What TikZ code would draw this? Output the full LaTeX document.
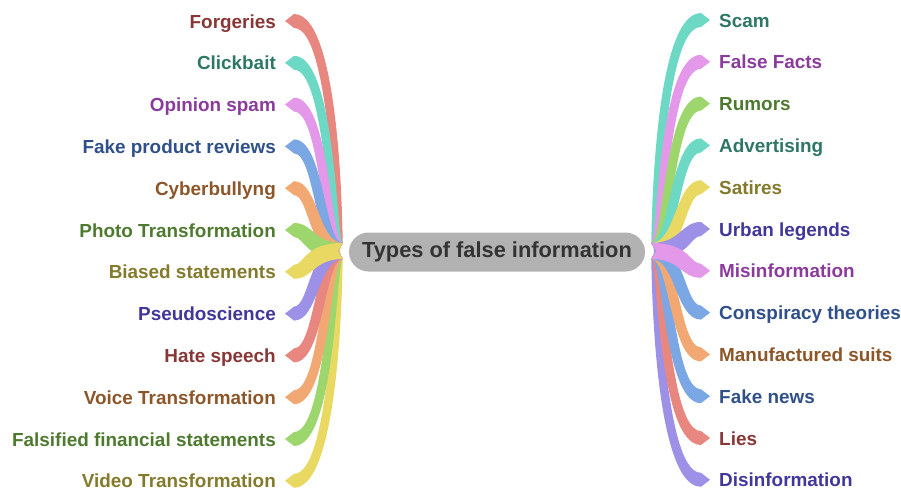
\documentclass[tikz,border=0pt]{standalone}
\usepackage{fontspec}
\setmainfont{Liberation Sans}
\usepackage{tikz}
\usetikzlibrary{calc}

\definecolor{redband}{HTML}{E8877F}
\definecolor{redtext}{HTML}{883636}
\definecolor{tealband}{HTML}{6DD8C4}
\definecolor{tealtext}{HTML}{2E7766}
\definecolor{pinkband}{HTML}{E398E9}
\definecolor{pinktext}{HTML}{8A3B9B}
\definecolor{blueband}{HTML}{7BA7E4}
\definecolor{bluetext}{HTML}{2F5089}
\definecolor{orangeband}{HTML}{F1A873}
\definecolor{orangetext}{HTML}{8C5629}
\definecolor{greenband}{HTML}{9DD66D}
\definecolor{greentext}{HTML}{4E7A30}
\definecolor{yellowband}{HTML}{E9D963}
\definecolor{yellowtext}{HTML}{837A2C}
\definecolor{purpleband}{HTML}{9C91E6}
\definecolor{purpletext}{HTML}{41379A}
\definecolor{rootgray}{HTML}{B2B2B2}
\definecolor{roottext}{HTML}{333333}

% ribbon: leaf, anchor side, root point, direction, trunk offset, colour
\newcommand{\ribbon}[6]{%
  \fill[#6] let \p1=($(#1.base #2)+({-(#4)*9},-7)$), \p2=(#3),
    \n1={sign(\y1-(\y2))}, \n2={\x2+(#4)*(#5)} in
    (\x2,\y2+8pt)
    .. controls ({\n2-(#4)*(\n1)*4.5pt},\y2+8pt) and ({\n2-(#4)*(\n1)*4.5pt},\y1+7pt) ..
    ({\x1-(#4)*9pt},\y1+7pt) -- (\x1,\y1) -- ({\x1-(#4)*9pt},\y1-7pt)
    .. controls ({\n2+(#4)*(\n1)*4.5pt},\y1-7pt) and ({\n2+(#4)*(\n1)*4.5pt},\y2-8pt) ..
    (\x2,\y2-8pt) -- ({\x2+(#4)*5pt},\y2) -- cycle;}

\begin{document}
\begin{tikzpicture}[
    x=1pt, y=-1pt,
    leafL/.style={anchor=base east, inner sep=0pt, font=\bfseries\fontsize{18.9}{20}\selectfont},
    leafR/.style={anchor=base west, inner sep=0pt, font=\bfseries\fontsize{18.9}{20}\selectfont},
    topic/.style={fill=rootgray, text=roottext, rounded corners=19.5pt,
      minimum width=296pt, minimum height=39pt, inner sep=0pt,
      font=\bfseries\fontsize{21.8}{24}\selectfont}
  ]
  \useasboundingbox (0,0) rectangle (901,490);

  % Nodos
  \node[topic] (root) at (497,252) {Types of false information};
  \coordinate (rl) at ($(root.west)+(-6,-1)$);
  \coordinate (rr) at ($(root.east)+(6,-1)$);

  \node[leafL, text=redtext] (forgeries) at (276,28) {Forgeries};
  \node[leafL, text=tealtext] (clickbait) at (276,69.8) {Clickbait};
  \node[leafL, text=pinktext] (opinion) at (276,111.6) {Opinion spam};
  \node[leafL, text=bluetext] (reviews) at (276,153.4) {Fake product reviews};
  \node[leafL, text=orangetext] (bullying) at (276,195.2) {Cyberbullyng};
  \node[leafL, text=greentext] (photo) at (276,237) {Photo Transformation};
  \node[leafL, text=yellowtext] (biased) at (276,278.8) {Biased statements};
  \node[leafL, text=purpletext] (pseudo) at (276,320.6) {Pseudoscience};
  \node[leafL, text=redtext] (hate) at (276,362.4) {Hate speech};
  \node[leafL, text=orangetext] (voice) at (276,404.2) {Voice Transformation};
  \node[leafL, text=greentext] (financial) at (276,446) {Falsified financial statements};
  \node[leafL, text=yellowtext] (video) at (276,487.8) {Video Transformation};

  \node[leafR, text=tealtext] (scam) at (719,27) {Scam};
  \node[leafR, text=pinktext] (facts) at (719,68.8) {False Facts};
  \node[leafR, text=greentext] (rumors) at (719,110.6) {Rumors};
  \node[leafR, text=tealtext] (advert) at (719,152.4) {Advertising};
  \node[leafR, text=yellowtext] (satires) at (719,194.2) {Satires};
  \node[leafR, text=purpletext] (legends) at (719,236) {Urban legends};
  \node[leafR, text=pinktext] (misinfo) at (719,277.8) {Misinformation};
  \node[leafR, text=bluetext] (conspiracy) at (719,319.6) {Conspiracy theories};
  \node[leafR, text=orangetext] (suits) at (719,361.4) {Manufactured suits};
  \node[leafR, text=bluetext] (fakenews) at (719,403.2) {Fake news};
  \node[leafR, text=redtext] (lies) at (719,445) {Lies};
  \node[leafR, text=purpletext] (disinfo) at (719,486.8) {Disinformation};

  % Ramas
  \ribbon{forgeries}{east}{rl}{-1}{5}{redband}
  \ribbon{clickbait}{east}{rl}{-1}{11}{tealband}
  \ribbon{opinion}{east}{rl}{-1}{17}{pinkband}
  \ribbon{reviews}{east}{rl}{-1}{23}{blueband}
  \ribbon{bullying}{east}{rl}{-1}{29}{orangeband}
  \ribbon{photo}{east}{rl}{-1}{34}{greenband}
  \ribbon{video}{east}{rl}{-1}{5}{yellowband}
  \ribbon{financial}{east}{rl}{-1}{11}{greenband}
  \ribbon{voice}{east}{rl}{-1}{17}{orangeband}
  \ribbon{hate}{east}{rl}{-1}{23}{redband}
  \ribbon{pseudo}{east}{rl}{-1}{29}{purpleband}
  \ribbon{biased}{east}{rl}{-1}{34}{yellowband}

  \ribbon{scam}{west}{rr}{1}{5}{tealband}
  \ribbon{facts}{west}{rr}{1}{11}{pinkband}
  \ribbon{rumors}{west}{rr}{1}{17}{greenband}
  \ribbon{advert}{west}{rr}{1}{23}{tealband}
  \ribbon{satires}{west}{rr}{1}{29}{yellowband}
  \ribbon{legends}{west}{rr}{1}{34}{purpleband}
  \ribbon{disinfo}{west}{rr}{1}{5}{purpleband}
  \ribbon{lies}{west}{rr}{1}{11}{redband}
  \ribbon{fakenews}{west}{rr}{1}{17}{blueband}
  \ribbon{suits}{west}{rr}{1}{23}{orangeband}
  \ribbon{conspiracy}{west}{rr}{1}{29}{blueband}
  \ribbon{misinfo}{west}{rr}{1}{34}{pinkband}
\end{tikzpicture}
\end{document}
